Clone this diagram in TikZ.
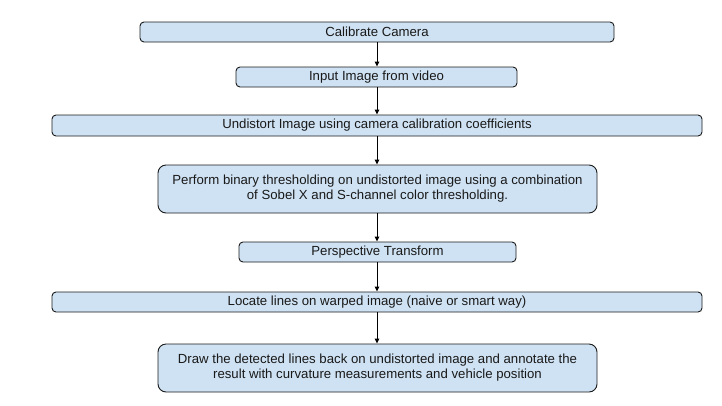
\documentclass[tikz,border=0pt]{standalone}
\usepackage{fontspec}
\setmainfont{Liberation Sans}
\usetikzlibrary{arrows.meta}
\definecolor{boxfill}{HTML}{CFE2F3}
\definecolor{boxline}{HTML}{1A1A1A}
\tikzset{
  x=1pt, y=-1pt,
  stepbox/.style={draw=boxline, fill=boxfill, line width=0.9pt, rounded corners=4pt,
    inner sep=0pt, align=center, font=\fontsize{13.2}{15}\selectfont, text=black!90},
  tallbox/.style={stepbox, rounded corners=8pt},
  flow/.style={draw=black, line width=0.9pt, -{Triangle[length=5pt,width=4.5pt]}}
}
\begin{document}
\begin{tikzpicture}
\useasboundingbox (0,0) rectangle (722,405);
\node[stepbox, minimum width=474pt, minimum height=20pt] (cal) at (377,32) {Calibrate Camera};
\node[stepbox, minimum width=281pt, minimum height=20pt] (inp) at (376.5,77) {Input Image from video};
\node[stepbox, minimum width=650pt, minimum height=21pt] (und) at (377,125.5) {Undistort Image using camera calibration coefficients};
\node[tallbox, minimum width=439pt, minimum height=48pt] (thr) at (377.5,189) {Perform binary thresholding on undistorted image using a combination\\of Sobel X and S-channel color thresholding.};
\node[stepbox, minimum width=277pt, minimum height=20pt] (per) at (377.5,252) {Perspective Transform};
\node[stepbox, minimum width=650pt, minimum height=20pt] (loc) at (377,302) {Locate lines on warped image (naive or smart way)};
\node[tallbox, minimum width=439pt, minimum height=48pt] (drw) at (377.5,368) {Draw the detected lines back on undistorted image and annotate the\\result with curvature measurements and vehicle position};
\draw[flow] (cal.south -| 377,0) -- (inp.north -| 377,0);
\draw[flow] (inp.south -| 377,0) -- (und.north -| 377,0);
\draw[flow] (und.south -| 377,0) -- (thr.north -| 377,0);
\draw[flow] (thr.south -| 377,0) -- (per.north -| 377,0);
\draw[flow] (per.south -| 377,0) -- (loc.north -| 377,0);
\draw[flow] (loc.south -| 377,0) -- (drw.north -| 377,0);
\end{tikzpicture}
\end{document}
